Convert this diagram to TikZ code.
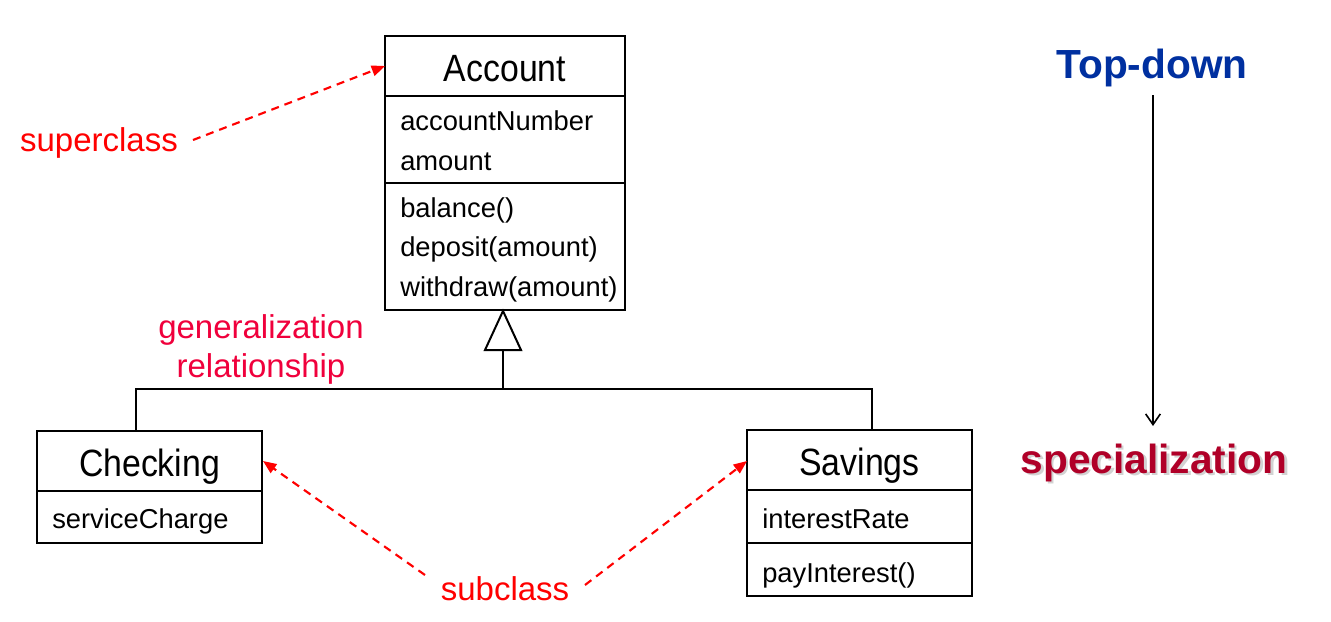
\documentclass[tikz,border=0pt]{standalone}
\usepackage{fontspec}
\setmainfont{Liberation Sans}
\newfontfamily\condfont[FakeStretch=0.89]{Liberation Sans}
\usetikzlibrary{arrows.meta}
\definecolor{lblred}{HTML}{FF0000}
\definecolor{genred}{HTML}{F0003C}
\definecolor{tdblue}{HTML}{0030A0}
\definecolor{spred}{HTML}{B00028}
\begin{document}
\begin{tikzpicture}[x=0.75pt,y=-0.75pt,
  box/.style={draw=black, line width=1.5pt, inner sep=0pt, outer sep=0pt},
  cname/.style={font=\condfont\fontsize{28.5}{34}\selectfont, anchor=base, inner sep=0pt},
  member/.style={font=\fontsize{20.5}{24}\selectfont, anchor=base west, inner sep=0pt},
  note/.style={font=\fontsize{24.75}{30}\selectfont, text=lblred, anchor=base, inner sep=0pt},
  pointer/.style={draw=lblred, line width=1.6pt, dash pattern=on 6pt off 4.5pt, -{Triangle[length=10pt,width=8pt]}},
  tree/.style={draw=black, line width=1.5pt},
  big/.style={font=\bfseries\fontsize{30.5}{36}\selectfont, anchor=base, inner sep=0pt}
]
\useasboundingbox (0,0) rectangle (1331,621);
\fill[white] (0,0) rectangle (1331,621);

% Account
\node[box, minimum width=180pt, minimum height=205.5pt] (acc) at (505,173) {};
\draw[tree] (385,96) -- (625,96);
\draw[tree] (385,183) -- (625,183);
\node[cname] (accname) at (505,81) {Account};
\node[member] (a1) at (400,130) {accountNumber};
\node[member] (a2) at (400,170) {amount};
\node[member] (m1) at (400,217) {balance()};
\node[member] (m2) at (400,256) {deposit(amount)};
\node[member] (m3) at (400,296) {withdraw(amount)};

% Checking
\node[box, minimum width=168.75pt, minimum height=84pt] (chk) at (149.5,487) {};
\draw[tree] (37,491) -- (262,491);
\node[cname] (chkname) at (149.5,476) {Checking};
\node[member] (c1) at (52,528) {serviceCharge};

% Savings
\node[box, minimum width=168.75pt, minimum height=124.5pt] (sav) at (859.5,513) {};
\draw[tree] (747,490) -- (972,490);
\draw[tree] (747,543) -- (972,543);
\node[cname] (savname) at (859.5,475) {Savings};
\node[member] (s1) at (762,528) {interestRate};
\node[member] (s2) at (762,582) {payInterest()};

% generalization tree
\coordinate (apex) at (503,311);
\coordinate (triL) at (485,350);
\coordinate (triR) at (521,350);
\coordinate (triB) at (503,350);
\coordinate (junc) at (503,389);
\coordinate (chkTop) at (136,431);
\coordinate (savTop) at (872,430);
\draw[tree, line join=miter] (apex) -- (triR) -- (triL) -- cycle;
\draw[tree] (triB) -- (junc);
\draw[tree] (chkTop) -- (136,389) -- (872,389) -- (savTop);

% red labels
\node[note] (sup) at (99,151) {superclass};
\node[note, text=genred] (gen1) at (261,338) {generalization};
\node[note, text=genred] (gen2) at (261,377) {relationship};
\node[note] (sub) at (505,600) {subclass};

\coordinate (supS) at (193,140);
\coordinate (supE) at (385,66);
\coordinate (subL) at (425,575);
\coordinate (chkE) at (263,461);
\coordinate (subR) at (585,585);
\coordinate (savE) at (747,461);
\draw[pointer] (supS) -- (supE);
\draw[pointer] (subL) -- (chkE);
\draw[pointer] (subR) -- (savE);

% right side
\node[big, text=tdblue] (td) at (1152,78) {Top-down};
\node[big, text=gray!35] (spshadow) at (1156.5,475.5) {specialization};
\node[big, text=spred] (sp) at (1154,473) {specialization};
\coordinate (tdS) at (1153,95);
\coordinate (tdE) at (1153,426);
\draw[line width=1.2pt, -{Straight Barb[length=8pt,width=11pt,line width=1.2pt]}] (tdS) -- (tdE);
\end{tikzpicture}
\end{document}
